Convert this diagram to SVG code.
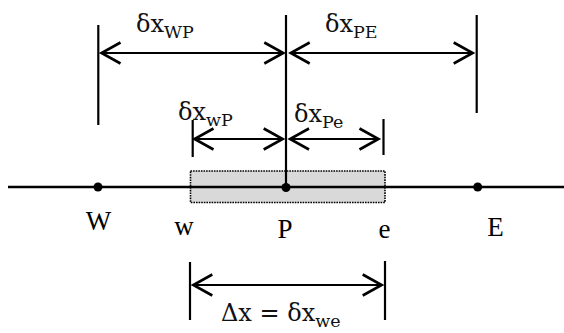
<svg xmlns="http://www.w3.org/2000/svg" width="564" height="333" viewBox="0 0 564 333">
<style>
.ln{stroke:#000;stroke-width:2.2;fill:none}
.ax{stroke:#000;stroke-width:2.5;fill:none}
.lbl{font-family:"Liberation Serif","Times New Roman",serif;font-size:27px;fill:#000}
.m{font-family:"DejaVu Serif","Liberation Serif",serif;font-size:24px;fill:#111}
.s{font-size:17.5px}
</style>
<defs>
<marker id="ah" markerUnits="userSpaceOnUse" markerWidth="30" markerHeight="30" viewBox="-25 -15 30 30" refX="0" refY="0" orient="auto-start-reverse">
<path d="M-19,-10.5 L0,0 L-19,10.5" fill="none" stroke="#000" stroke-width="2.6"/>
</marker>
</defs>
<rect x="0" y="0" width="564" height="333" fill="#fff"/>
<g id="cell">
<rect x="190.5" y="171" width="194.5" height="31.5" fill="#d9d9d9" stroke="#000" stroke-width="1.6" stroke-dasharray="1.6,1"/>
</g>
<g id="connectors">
<line class="ax" x1="8" y1="187" x2="564" y2="187"/>
<line class="ln" x1="98.3" y1="25" x2="98.3" y2="125"/>
<line class="ln" x1="286" y1="15" x2="286" y2="187"/>
<line class="ln" x1="476.7" y1="15" x2="476.7" y2="113"/>
<line class="ln" x1="192.7" y1="120" x2="192.7" y2="157"/>
<line class="ln" x1="383.5" y1="119" x2="383.5" y2="155"/>
<line class="ln" x1="190" y1="262" x2="190" y2="320"/>
<line class="ln" x1="385" y1="261" x2="385" y2="320"/>
<line class="ln" x1="101.5" y1="53" x2="283.3" y2="53" marker-start="url(#ah)" marker-end="url(#ah)"/>
<line class="ln" x1="290.7" y1="53" x2="472.7" y2="53" marker-start="url(#ah)" marker-end="url(#ah)"/>
<line class="ln" x1="194.5" y1="139" x2="282.7" y2="139" marker-start="url(#ah)" marker-end="url(#ah)"/>
<line class="ln" x1="290" y1="139" x2="378.5" y2="139" marker-start="url(#ah)" marker-end="url(#ah)"/>
<line class="ln" x1="193.3" y1="285" x2="381.7" y2="285" marker-start="url(#ah)" marker-end="url(#ah)"/>
</g>
<g id="node-W">
<circle cx="98" cy="187" r="4.5" fill="#000"/>
<text class="lbl" x="98.5" y="230" text-anchor="middle">W</text>
</g>
<g id="node-w">
<text class="lbl" x="184" y="235" text-anchor="middle">w</text>
</g>
<g id="node-P">
<circle cx="286" cy="187.5" r="4.5" fill="#000"/>
<text class="lbl" x="285" y="238" text-anchor="middle">P</text>
</g>
<g id="node-e">
<text class="lbl" x="384.5" y="238" text-anchor="middle">e</text>
</g>
<g id="node-E">
<circle cx="477.7" cy="187" r="4.5" fill="#000"/>
<text class="lbl" x="495.5" y="236" text-anchor="middle">E</text>
</g>
<g id="labels">
<text class="m" x="136" y="32">δx<tspan class="s" dy="6">WP</tspan></text>
<text class="m" x="325" y="32">δx<tspan class="s" dy="6">PE</tspan></text>
<text class="m" x="178" y="120">δx<tspan class="s" dy="6">wP</tspan></text>
<text class="m" x="294" y="122">δx<tspan class="s" dy="6">Pe</tspan></text>
<text class="m" x="221" y="321">Δx = δx<tspan class="s" dy="6">we</tspan></text>
</g>
</svg>
